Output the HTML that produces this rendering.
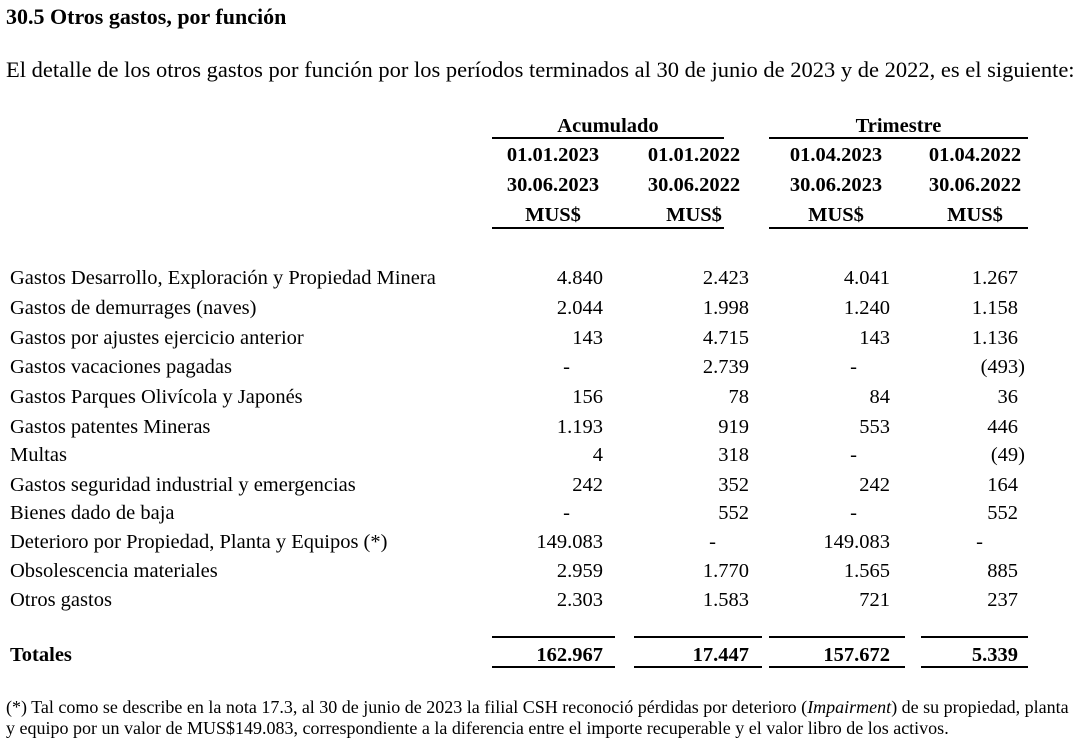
<!DOCTYPE html>
<html><head><meta charset="utf-8"><style>
body{margin:0;width:1085px;height:752px;background:#fff;position:relative;font-family:"Liberation Serif",serif;color:#000;overflow:hidden}
.t{position:absolute;white-space:nowrap;font-size:20.5px;line-height:20px}
.b{font-weight:bold}
.r{text-align:right}
.c{text-align:center}
.l{position:absolute;height:2px;background:#000}
.h{line-height:30px;font-size:20.5px}
</style></head><body>
<div class="t b" style="left:6px;top:7px;font-size:22px">30.5 Otros gastos, por función</div>
<div class="t" style="left:6px;top:60px;font-size:22.5px">El detalle de los otros gastos por función por los períodos terminados al 30 de junio de 2023 y de 2022, es el siguiente:</div>

<div class="t b c" style="left:492px;width:232px;top:116px">Acumulado</div>
<div class="t b c" style="left:769px;width:259px;top:116px">Trimestre</div>
<div class="l" style="left:492px;width:232px;top:137px"></div>
<div class="l" style="left:769px;width:259px;top:137px"></div>
<div class="l" style="left:492px;width:232px;top:227px"></div>
<div class="l" style="left:769px;width:259px;top:227px"></div>

<div class="t b c h" style="left:493px;width:120px;top:140px">01.01.2023<br>30.06.2023<br>MUS$</div>
<div class="t b c h" style="left:634px;width:120px;top:140px">01.01.2022<br>30.06.2022<br>MUS$</div>
<div class="t b c h" style="left:776px;width:120px;top:140px">01.04.2023<br>30.06.2023<br>MUS$</div>
<div class="t b c h" style="left:915px;width:120px;top:140px">01.04.2022<br>30.06.2022<br>MUS$</div>

<div id="rows"></div>
<script>
var rows=[
["Gastos Desarrollo, Exploración y Propiedad Minera","4.840","2.423","4.041","1.267",268],
["Gastos de demurrages (naves)","2.044","1.998","1.240","1.158",298],
["Gastos por ajustes ejercicio anterior","143","4.715","143","1.136",328],
["Gastos vacaciones pagadas","-","2.739","-","(493)",357],
["Gastos Parques Olivícola y Japonés","156","78","84","36",387],
["Gastos patentes Mineras","1.193","919","553","446",417],
["Multas","4","318","-","(49)",445],
["Gastos seguridad industrial y emergencias","242","352","242","164",475],
["Bienes dado de baja","-","552","-","552",503],
["Deterioro por Propiedad, Planta y Equipos (*)","149.083","-","149.083","-",532],
["Obsolescencia materiales","2.959","1.770","1.565","885",561],
["Otros gastos","2.303","1.583","721","237",590]];
var rights=[603,749,890,1018],h="";
rows.forEach(function(r){
 h+='<div class="t" style="left:10px;top:'+r[5]+'px">'+r[0]+'</div>';
 for(var i=0;i<4;i++){
  var v=r[i+1],rt=rights[i];
  if(v=="-"){rt-= (i==1?33:(i==3?35:33));}
  if(v.charAt(0)=="(") rt+=7;
  h+='<div class="t r" style="left:'+(rt-150)+'px;width:150px;top:'+r[5]+'px">'+v+'</div>';
 }
});
document.getElementById('rows').innerHTML=h;
</script>

<div class="l" style="left:492px;width:123px;top:636px"></div>
<div class="l" style="left:634px;width:128px;top:636px"></div>
<div class="l" style="left:769px;width:136px;top:636px"></div>
<div class="l" style="left:921px;width:107px;top:636px"></div>
<div class="t b" style="left:10px;top:645px">Totales</div>
<div class="t b r" style="left:453px;width:150px;top:645px">162.967</div>
<div class="t b r" style="left:599px;width:150px;top:645px">17.447</div>
<div class="t b r" style="left:740px;width:150px;top:645px">157.672</div>
<div class="t b r" style="left:868px;width:150px;top:645px">5.339</div>
<div class="l" style="left:492px;width:123px;top:666px"></div>
<div class="l" style="left:634px;width:128px;top:666px"></div>
<div class="l" style="left:769px;width:136px;top:666px"></div>
<div class="l" style="left:921px;width:107px;top:666px"></div>

<div class="t" style="left:6px;top:697px;font-size:18px">(*) Tal como se describe en la nota 17.3, al 30 de junio de 2023 la filial CSH reconoció pérdidas por deterioro (<i>Impairment</i>) de su propiedad, planta</div>
<div class="t" style="left:6px;top:718px;font-size:18px">y equipo por un valor de MUS$149.083, correspondiente a la diferencia entre el importe recuperable y el valor libro de los activos.</div>
</body></html>
